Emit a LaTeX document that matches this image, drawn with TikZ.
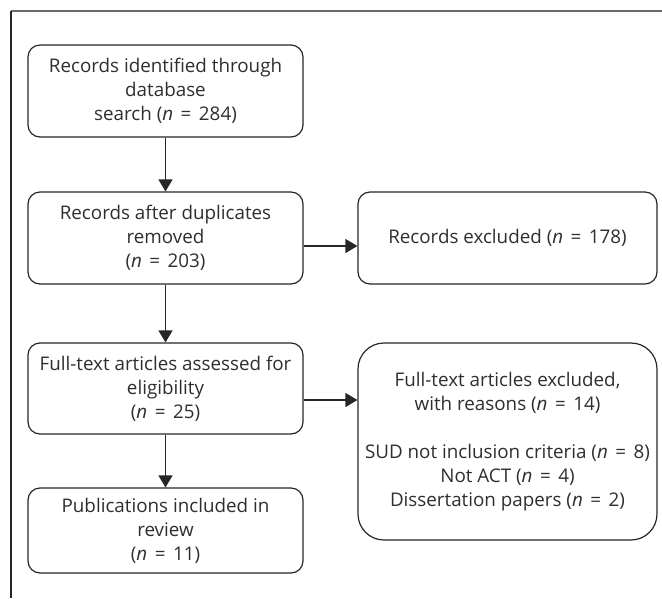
\documentclass[tikz,border=0pt]{standalone}
\usepackage{fontspec}
\setmainfont{Open Sans}
\usepackage{tikz}
\usetikzlibrary{arrows.meta, calc}

\definecolor{rahmen}{HTML}{6A6A6A}
\definecolor{schrift}{HTML}{2E2E2E}
\newcommand{\nwert}[1]{(\textit{n}\hspace{0.4em}=\hspace{0.4em}#1)}

\begin{document}
\begin{tikzpicture}[x=1pt, y=-1pt, >={Triangle[length=12pt,width=14pt]},
	box/.style={draw=black!85, line width=1.2pt, rounded corners=12pt, align=center, text=schrift,
		font=\fontsize{18.8}{24}\selectfont, inner sep=0pt},
	haupt/.style={box, minimum width=275pt, minimum height=92pt},
	seite/.style={box, minimum width=299pt, minimum height=92pt},
	pfeil/.style={->, line width=1.2pt, draw=black!85}]
		\useasboundingbox (0,0) rectangle (662,598);
		
		% Rahmen
		\draw[rahmen, line width=1.3pt] (11,11) -- (662,11);
		\draw[black!85, line width=1.3pt] (11,11) -- (11,598);
		
		% Hauptspalte
		\node[haupt] (ident) at (165.5,91) {Records identified through\\database\\search \nwert{284}};
		\node[haupt] (dupl) at (165.5,238) {Records after duplicates\\removed\\\nwert{203}};
		\node[haupt, minimum height=91pt] (voll) at (165.5,388.5) {Full-text articles assessed for\\eligibility\\\nwert{25}};
		\node[haupt, minimum height=85pt] (publ) at (165.5,530.5) {Publications included in\\review\\\nwert{11}};
		
		% Ausschluss
		\node[seite] (ausRec) at (507.5,238) {Records excluded \nwert{178}};
		\node[seite, minimum height=197pt, rounded corners=26pt] (ausVoll) at (507.5,441.5) {Full-text articles excluded,\\with reasons \nwert{14}\\[24pt]SUD not inclusion criteria \nwert{8}\\Not ACT \nwert{4}\\Dissertation papers \nwert{2}};
		
		% Pfeile
		\draw[pfeil] (ident) -- (dupl);
		\draw[pfeil] (dupl) -- (voll);
		\draw[pfeil] (voll) -- (publ);
		\draw[pfeil] ([yshift=-8pt]dupl.east) -- ([yshift=-8pt]ausRec.west);
		\draw[pfeil] ([yshift=-11.5pt]voll.east) -- ([yshift=-11.5pt]voll.east -| ausVoll.west);
	\end{tikzpicture}
\end{document}
